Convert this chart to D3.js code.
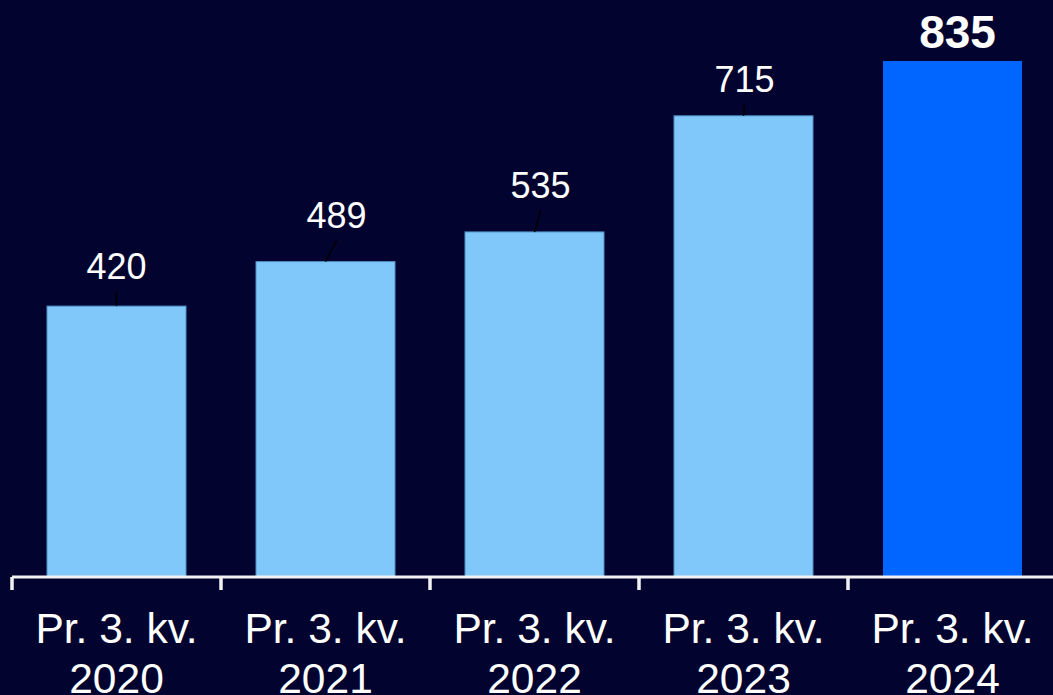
<!DOCTYPE html>
<html>
<head>
<meta charset="utf-8">
<script src="https://cdn.jsdelivr.net/npm/d3@7"></script>
<style>
  html, body { margin: 0; padding: 0; background: #02042f; overflow: hidden; }
  svg { display: block; }
</style>
</head>
<body>
<svg id="chart" width="1053" height="695"></svg>
<script>
// ---- data ----
const categoryLine1 = ["Pr. 3. kv.", "Pr. 3. kv.", "Pr. 3. kv.", "Pr. 3. kv.", "Pr. 3. kv."];
const categoryYears = ["2020", "2021", "2022", "2023", "2024"];
const values = [420, 489, 535, 715, 835];
const highlight = [false, false, false, false, true];
const yDomainMax = 800;

// ---- layout ----
const W = 1053, H = 695;
const svg = d3.select("#chart");
svg.append("rect").attr("width", W).attr("height", H).attr("fill", "#02042f");

const x = d3.scaleBand()
  .domain(categoryYears)
  .range([12, 1057])
  .paddingInner(0)
  .paddingOuter(0);

const barW = 139;
const y = d3.scaleLinear().domain([0, yDomainMax]).range([577, 61]).clamp(true);

// bars
const data = values.map((v, i) => ({ v, year: categoryYears[i], l1: categoryLine1[i], hi: highlight[i] }));

svg.selectAll("rect.bar").data(data).enter().append("rect")
  .attr("class", "bar")
  .attr("x", d => x(d.year) + x.bandwidth() / 2 - barW / 2)
  .attr("y", d => y(d.v))
  .attr("width", barW)
  .attr("height", d => y(0) - y(d.v))
  .attr("fill", d => d.hi ? "#0066ff" : "#80c8f9")
  .attr("stroke", d => d.hi ? "none" : "#4f8fc6")
  .attr("stroke-width", 1);

// value labels with leader lines (label offsets relative to bar centre/top)
const labelDx = [0, 11, 6, 1, 5];
const labelGap = [27, 34, 34, 24, 13];
data.forEach((d, i) => {
  const cx = x(d.year) + x.bandwidth() / 2;
  const top = y(d.v);
  const lx = cx + labelDx[i];
  const base = top - labelGap[i];
  if (!d.hi) {
    svg.append("line")
      .attr("x1", lx).attr("y1", base + 12.5)
      .attr("x2", cx).attr("y2", top)
      .attr("stroke", "#000000").attr("stroke-width", 1.5);
  }
  svg.append("text")
    .attr("x", lx).attr("y", base)
    .attr("text-anchor", "middle")
    .attr("fill", "#ffffff")
    .attr("font-family", "Liberation Sans, Arial, sans-serif")
    .attr("font-size", d.hi ? 46 : 36)
    .attr("font-weight", d.hi ? "bold" : "normal")
    .text(d.v);
});

// x axis
const axisG = svg.append("g").attr("transform", "translate(0,577)");
const axis = d3.axisBottom(x).tickSize(0).tickFormat("");
axisG.call(axis);
axisG.select(".domain").remove();
axisG.append("line")
  .attr("x1", 12).attr("x2", 1057)
  .attr("y1", 0).attr("y2", 0)
  .attr("stroke", "#f2f2f2").attr("stroke-width", 3);
const boundaries = categoryYears.map(c => x(c)).concat([x(categoryYears[categoryYears.length - 1]) + x.step()]);
axisG.selectAll("line.tb").data(boundaries).enter().append("line")
  .attr("class", "tb")
  .attr("x1", d => d).attr("x2", d => d)
  .attr("y1", 0).attr("y2", 13)
  .attr("stroke", "#f2f2f2").attr("stroke-width", 3.5);

// category labels
data.forEach(d => {
  const cx = x(d.year) + x.bandwidth() / 2;
  const t = svg.append("text")
    .attr("text-anchor", "middle")
    .attr("fill", "#ffffff")
    .attr("font-family", "Liberation Sans, Arial, sans-serif")
    .attr("font-size", 42.5);
  t.append("tspan").attr("x", cx).attr("y", 642.5).text(d.l1);
  t.append("tspan").attr("x", cx).attr("y", 692.5).text(d.year);
});
</script>
</body>
</html>
